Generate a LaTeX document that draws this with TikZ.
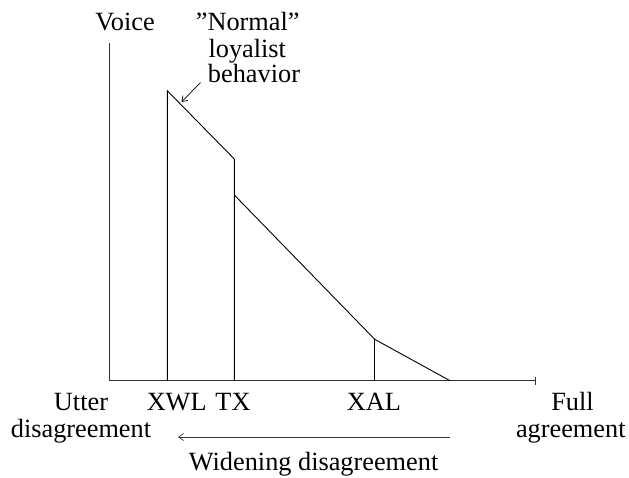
\documentclass[tikz,border=0pt]{standalone}
\usepackage{fontspec}
\setmainfont{Liberation Serif}
\usetikzlibrary{arrows.meta}
\begin{document}
\begin{tikzpicture}[x=1pt,y=-1pt,
  lbl/.style={anchor=base,inner sep=0pt,font=\fontsize{26.3}{27}\selectfont},
  ln/.style={line width=0.9pt,line join=miter},
  axisln/.style={line width=1.3pt,black!80},
  tip/.style={-{Straight Barb[length=5pt,width=7pt]},line width=0.7pt}]
\useasboundingbox (0,0) rectangle (629,477);
% coordinates
\coordinate (O) at (109.3,380.7);
\coordinate (Ytop) at (109.3,42.7);
\coordinate (Xend) at (535.7,380.7);
\coordinate (XWLb) at (167.3,380.7);
\coordinate (XWLt) at (167.3,90.7);
\coordinate (TXb) at (234.3,380.7);
\coordinate (TXt) at (234.3,159);
\coordinate (TXm) at (234.3,195);
\coordinate (XALt) at (374.7,339.3);
\coordinate (XALb) at (374.7,380.7);
\coordinate (E) at (450,380.7);
\coordinate (Ar1) at (450,437);
\coordinate (Ar2) at (178,437);
\coordinate (La1) at (200.5,82.5);
\coordinate (La2) at (181.5,102);
% axes
\draw[axisln] (Ytop) -- (O) -- (Xend);
\draw[axisln] ([yshift=-4.2pt]Xend) -- ([yshift=4.2pt]Xend);
% curve
\draw[ln] (XWLb) -- (XWLt) -- (TXt) -- (TXb);
\draw[ln] (TXm) -- (XALt) -- (E);
\draw[ln] (XALt) -- (XALb);
% arrows
\draw[tip,black!80] (Ar1) -- (Ar2);
\draw[tip] (La1) -- (La2);
% labels
\node[lbl] (voice) at (125,30) {Voice};
\node[lbl] (normal) at (247.7,30) {''Normal''};
\node[lbl] (loyal) at (247.3,57.3) {loyalist};
\node[lbl] (behav) at (254,82.7) {behavior};
\node[lbl] (utter) at (81,410.7) {Utter};
\node[lbl] (disag) at (81,437) {disagreement};
\node[lbl] (xwl) at (176.7,410.7) {XWL};
\node[lbl] (tx) at (233,410.7) {TX};
\node[lbl] (xal) at (374,410.7) {XAL};
\node[lbl] (full) at (572.5,410.7) {Full};
\node[lbl] (agree) at (570.8,437) {agreement};
\node[lbl] (widen) at (313.6,470) {Widening disagreement};
\end{tikzpicture}
\end{document}
